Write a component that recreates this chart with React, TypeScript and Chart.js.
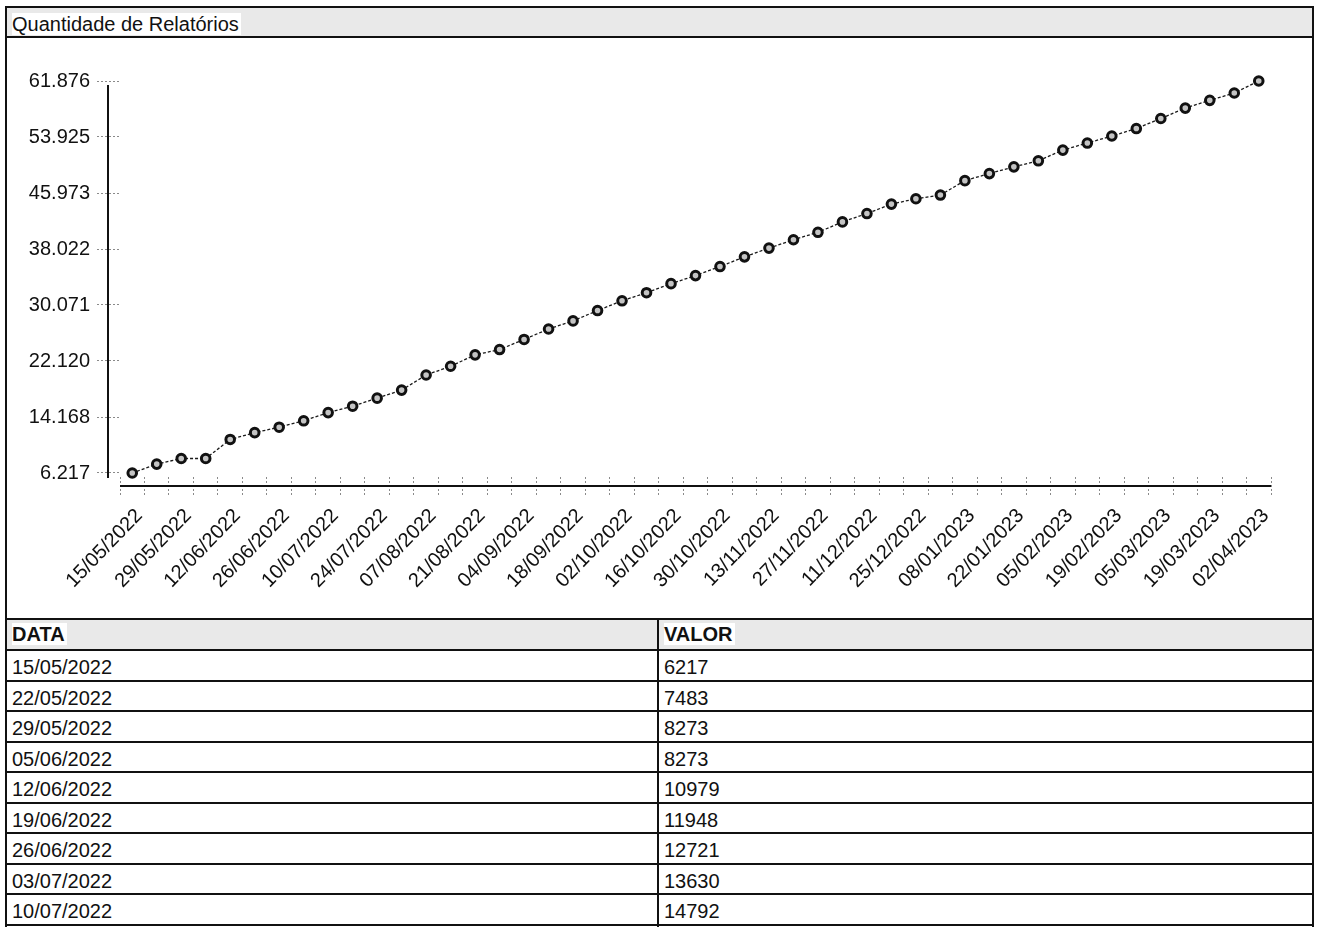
import React, { useEffect, useRef } from "react";
import { Chart, registerables } from "chart.js";

Chart.register(...registerables);

const title = "Quantidade de Relatórios";
const colDate = "DATA";
const colValue = "VALOR";

const dates: string[] = [
  "15/05/2022", "22/05/2022", "29/05/2022", "05/06/2022", "12/06/2022", "19/06/2022",
  "26/06/2022", "03/07/2022", "10/07/2022", "17/07/2022", "24/07/2022", "31/07/2022",
  "07/08/2022", "14/08/2022", "21/08/2022", "28/08/2022", "04/09/2022", "11/09/2022",
  "18/09/2022", "25/09/2022", "02/10/2022", "09/10/2022", "16/10/2022", "23/10/2022",
  "30/10/2022", "06/11/2022", "13/11/2022", "20/11/2022", "27/11/2022", "04/12/2022",
  "11/12/2022", "18/12/2022", "25/12/2022", "01/01/2023", "08/01/2023", "15/01/2023",
  "22/01/2023", "29/01/2023", "05/02/2023", "12/02/2023", "19/02/2023", "26/02/2023",
  "05/03/2023", "12/03/2023", "19/03/2023", "26/03/2023", "02/04/2023",
];

const values: number[] = [
  6217, 7483, 8273, 8273, 10979, 11948, 12721, 13630, 14792, 15698,
  16842, 17986, 20131, 21375, 22991, 23749, 25179, 26666, 27810, 29283,
  30670, 31814, 33101, 34245, 35532, 36905, 38149, 39336, 40394, 41867,
  43054, 44398, 45156, 45685, 47730, 48731, 49689, 50547, 52063, 53064,
  54065, 55123, 56553, 58026, 59127, 60171, 61876,
];

const yTicks: number[] = [6217, 14168, 22120, 30071, 38022, 45973, 53925, 61876];
const yMin = 5649;
const yMax = 61876;

const FONT = '"Liberation Sans", Arial, Helvetica, sans-serif';
const INK = "#111111";

function fmt(n: number): string {
  return String(Math.round(n)).replace(/\B(?=(\d{3})+(?!\d))/g, ".");
}

const axisLines = {
  id: "axisLines",
  beforeDatasetsDraw(chart: any) {
    const { ctx, chartArea } = chart;
    ctx.save();
    ctx.strokeStyle = INK;
    ctx.lineWidth = 2;
    ctx.setLineDash([]);
    const yx = chartArea.left - 12;
    ctx.beginPath();
    ctx.moveTo(yx, chartArea.top + 4);
    ctx.lineTo(yx, chartArea.bottom + 1);
    ctx.stroke();
    const xy = chartArea.bottom + 9;
    ctx.beginPath();
    ctx.moveTo(chartArea.left, xy);
    ctx.lineTo(chartArea.right, xy);
    ctx.stroke();
    ctx.restore();
  },
};

const stipple = "#e9e9e9";

export default function App() {
  const ref = useRef<HTMLCanvasElement>(null);

  useEffect(() => {
    document.body.style.margin = "0";
    const chart = new Chart(ref.current as HTMLCanvasElement, {
      type: "line",
      data: {
        labels: dates,
        datasets: [
          {
            data: values,
            borderColor: "#1a1a1a",
            borderWidth: 1.3,
            borderDash: [3, 2],
            pointRadius: 4.3,
            pointBorderWidth: 3,
            pointBorderColor: INK,
            pointBackgroundColor: "#c4c4c4",
            fill: false,
            tension: 0,
            clip: false as any,
          },
        ],
      },
      options: {
        responsive: false,
        animation: false,
        events: [],
        layout: { padding: { left: 0, right: 41, top: 43, bottom: 0 } },
        plugins: {
          legend: { display: false },
          tooltip: { enabled: false },
          title: { display: false },
        },
        scales: {
          x: {
            type: "category",
            offset: true,
            border: { display: false },
            grid: {
              offset: true,
              drawOnChartArea: false,
              drawTicks: true,
              tickLength: 20,
              tickColor: "#8a8a8a",
              tickWidth: 1,
              tickBorderDash: [2, 2],
            },
            ticks: {
              autoSkip: false,
              minRotation: 46,
              maxRotation: 46,
              padding: 7,
              labelOffset: 7,
              color: INK,
              font: { family: FONT, size: 20 },
              callback: (_v: any, i: number) => (i % 2 === 0 ? dates[i] : ""),
            },
            afterFit: (s: any) => {
              s.height = 141;
            },
          },
          y: {
            type: "linear",
            min: yMin,
            max: yMax,
            border: { display: false },
            grid: {
              drawOnChartArea: false,
              drawTicks: true,
              tickLength: 23,
              tickColor: "#8a8a8a",
              tickWidth: 1,
              tickBorderDash: [2, 2],
            },
            ticks: {
              padding: 7,
              color: INK,
              font: { family: FONT, size: 20 },
              callback: (v: any) => fmt(Number(v)),
            },
            afterBuildTicks: (s: any) => {
              s.ticks = yTicks.map((v) => ({ value: v }));
            },
            afterFit: (s: any) => {
              s.width = 113;
            },
          },
        },
      },
      plugins: [axisLines],
    });
    return () => chart.destroy();
  }, []);

  const cellText: React.CSSProperties = {
    background: "#fff",
    paddingRight: 2,
  };

  return (
    <div
      style={{
        position: "absolute",
        left: 5,
        top: 6,
        width: 1309,
        height: 921,
        boxSizing: "border-box",
        border: `2px solid ${INK}`,
        borderBottom: "none",
        overflow: "hidden",
        background: "#fff",
        fontFamily: FONT,
        fontSize: 20,
        color: INK,
      }}
    >
      <div
        style={{
          height: 28,
          borderBottom: `2px solid ${INK}`,
          background: stipple,
          boxSizing: "content-box",
          paddingLeft: 5,
          lineHeight: "22px",
          position: "relative",
        }}
      >
        <span style={{ ...cellText, position: "relative", top: 5, display: "inline-block" }}>{title}</span>
      </div>
      <div style={{ height: 580, position: "relative" }}>
        <canvas ref={ref} width={1305} height={580} style={{ display: "block" }} />
      </div>
      <div style={{ borderTop: `2px solid ${INK}` }}>
        <div style={{ display: "flex", height: 29, borderBottom: `2px solid ${INK}`, background: stipple }}>
          <div style={{ width: 652, borderRight: `2px solid ${INK}`, paddingLeft: 5, lineHeight: "29px", fontWeight: "bold", boxSizing: "border-box" }}>
            <span style={cellText}>{colDate}</span>
          </div>
          <div style={{ flex: 1, paddingLeft: 5, lineHeight: "29px", fontWeight: "bold" }}>
            <span style={cellText}>{colValue}</span>
          </div>
        </div>
        {dates.map((d, i) => (
          <div key={d} style={{ display: "flex", height: 28.5, borderBottom: `2px solid ${INK}` }}>
            <div style={{ width: 652, borderRight: `2px solid ${INK}`, paddingLeft: 5, lineHeight: "28.5px", boxSizing: "border-box" }}>
              <span style={{ position: "relative", top: 2 }}>{d}</span>
            </div>
            <div style={{ flex: 1, paddingLeft: 5, lineHeight: "28.5px" }}>
              <span style={{ position: "relative", top: 2 }}>{values[i]}</span>
            </div>
          </div>
        ))}
      </div>
    </div>
  );
}
